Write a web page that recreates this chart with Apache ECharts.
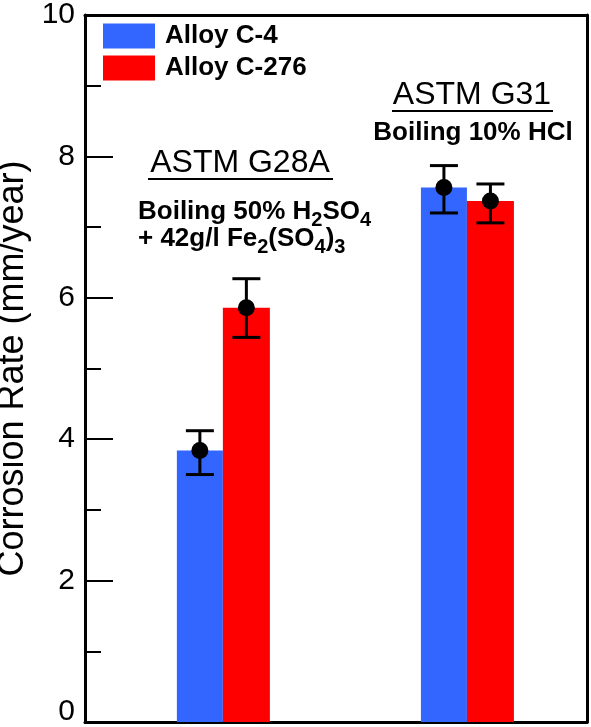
<!DOCTYPE html>
<html><head><meta charset="utf-8">
<script src="https://cdn.jsdelivr.net/npm/echarts@6/dist/echarts.min.js"></script>
<style>html,body{margin:0;padding:0;background:#fff}#c{width:591px;height:727px}</style>
</head><body><div id="c"></div>
<script>
// ---- data ----
const seriesNames = ['Alloy C-4', 'Alloy C-276'];
const groupPositions = [1, 2];           // ASTM G28A, ASTM G31
const c4Rates   = [3.84, 7.56];
const c276Rates = [5.86, 7.37];
const c4Low     = [3.50, 7.20];
const c4High    = [4.12, 7.87];
const c276Low   = [5.44, 7.06];
const c276High  = [6.27, 7.61];
const yTickLabels = [0, 2, 4, 6, 8, 10];
const yTitle = 'Corrosion Rate (mm/year)';

const FONT = '"Liberation Sans", Arial, Helvetica, sans-serif';
const BLUE = '#3366FF', RED = '#FF0000';
const W_BLUE = 46, W_RED = 47;

const chart = echarts.init(document.getElementById('c'), null, {renderer: 'canvas'});

function errSeries(name, lows, highs, means, offset) {
  return {
    type: 'custom', name: name + ' err', clip: false, z: 5,
    xAxisIndex: 0, yAxisIndex: 0,
    data: groupPositions.map((x, i) => [x, lows[i], highs[i], means[i]]),
    renderItem: function (params, api) {
      const x = api.value(0);
      const pl = api.coord([x, api.value(1)]);
      const ph = api.coord([x, api.value(2)]);
      const pm = api.coord([x, api.value(3)]);
      const cx = pl[0] + offset;
      const st = {stroke: '#000', lineWidth: 3};
      return {type: 'group', children: [
        {type: 'line', shape: {x1: cx, y1: pl[1], x2: cx, y2: ph[1]}, style: st},
        {type: 'line', shape: {x1: cx - 14, y1: ph[1], x2: cx + 14, y2: ph[1]}, style: st},
        {type: 'line', shape: {x1: cx - 14, y1: pl[1], x2: cx + 14, y2: pl[1]}, style: st},
        {type: 'circle', shape: {cx: cx, cy: pm[1], r: 8.5}, style: {fill: '#000'}}
      ]};
    }
  };
}

const frameLine = {show: true, onZero: false, lineStyle: {color: '#000', width: 3}};
const SUB = {fontSize: 20, fontWeight: 'bold', fontFamily: FONT, fill: '#000', verticalAlign: 'middle', lineHeight: 12, padding: [16, 0, 0, 0]};

const option = {
  animation: false,
  backgroundColor: '#fff',
  textStyle: {fontFamily: FONT},
  grid: {left: 85, right: 4, top: 15, bottom: 5, containLabel: false, outerBoundsMode: 'none'},
  legend: {
    data: seriesNames, orient: 'vertical', left: 98, top: 18,
    itemWidth: 52, itemHeight: 25, itemGap: 6, icon: 'rect',
    textStyle: {fontSize: 26, fontWeight: 'bold', color: '#000', fontFamily: FONT, lineHeight: 25, padding: [0, 0, 0, 5]}
  },
  xAxis: [
    {type: 'value', min: 0.433, max: 2.49, position: 'bottom', axisLine: frameLine,
     axisTick: {show: false}, axisLabel: {show: false}, splitLine: {show: false}},
    {type: 'value', min: 0.433, max: 2.49, position: 'top', axisLine: frameLine,
     axisTick: {show: false}, axisLabel: {show: false}, splitLine: {show: false}}
  ],
  yAxis: [
    {type: 'value', min: 0, max: 10, interval: 2, position: 'left',
     axisLine: frameLine,
     axisTick: {show: true, inside: true, length: 28, lineStyle: {color: '#000', width: 2}},
     minorTick: {show: true, splitNumber: 2, length: 16, lineStyle: {color: '#000', width: 2}},
     axisLabel: {color: '#000', fontSize: 30, margin: 10, fontFamily: FONT,
       formatter: v => !yTickLabels.includes(v) ? '' : (v === 0 ? '{z|0}' : String(v)),
       rich: {z: {fontSize: 30, color: '#000', fontFamily: FONT, padding: [0, 0, 20, 0]}}},
     splitLine: {show: false},
     name: yTitle, nameLocation: 'middle', nameGap: 49, nameRotate: 90,
     nameTextStyle: {color: '#000', fontSize: 36, fontFamily: FONT}},
    {type: 'value', min: 0, max: 10, position: 'right', axisLine: frameLine,
     axisTick: {show: false}, axisLabel: {show: false}, splitLine: {show: false}}
  ],
  series: [
    {name: seriesNames[0], type: 'bar', barWidth: W_BLUE, barGap: '0%',
     itemStyle: {color: BLUE}, data: groupPositions.map((x, i) => [x, c4Rates[i]])},
    {name: seriesNames[1], type: 'bar', barWidth: W_RED, barGap: '0%',
     itemStyle: {color: RED}, data: groupPositions.map((x, i) => [x, c276Rates[i]])},
    errSeries(seriesNames[0], c4Low, c4High, c4Rates, -(W_BLUE + W_RED) / 2 + W_BLUE / 2),
    errSeries(seriesNames[1], c276Low, c276High, c276Rates, -(W_BLUE + W_RED) / 2 + W_BLUE + W_RED / 2)
  ],
  graphic: [
    {type: 'text', x: 240, y: 163, style: {text: 'ASTM G28A', fontSize: 32, fontFamily: FONT, fill: '#000', align: 'center', verticalAlign: 'middle'}},
    {type: 'line', shape: {x1: 148, y1: 179, x2: 333, y2: 179}, style: {stroke: '#000', lineWidth: 2}},
    {type: 'text', x: 138, y: 198.5, style: {
      text: 'Boiling 50% H{s|2}SO{s|4}\n+ 42g/l Fe{s|2}(SO{s|4}){s|3}',
      fontSize: 26, fontWeight: 'bold', fontFamily: FONT, fill: '#000', lineHeight: 27,
      align: 'left', verticalAlign: 'top',
      rich: {s: SUB}
    }},
    {type: 'text', x: 472, y: 95, style: {text: 'ASTM G31', fontSize: 32, fontFamily: FONT, fill: '#000', align: 'center', verticalAlign: 'middle'}},
    {type: 'line', shape: {x1: 392, y1: 111, x2: 553, y2: 111}, style: {stroke: '#000', lineWidth: 2}},
    {type: 'text', x: 473, y: 133, style: {text: 'Boiling 10% HCl', fontSize: 26, fontWeight: 'bold', fontFamily: FONT, fill: '#000', align: 'center', verticalAlign: 'middle'}}
  ]
};
chart.setOption(option);
</script>
</body></html>
